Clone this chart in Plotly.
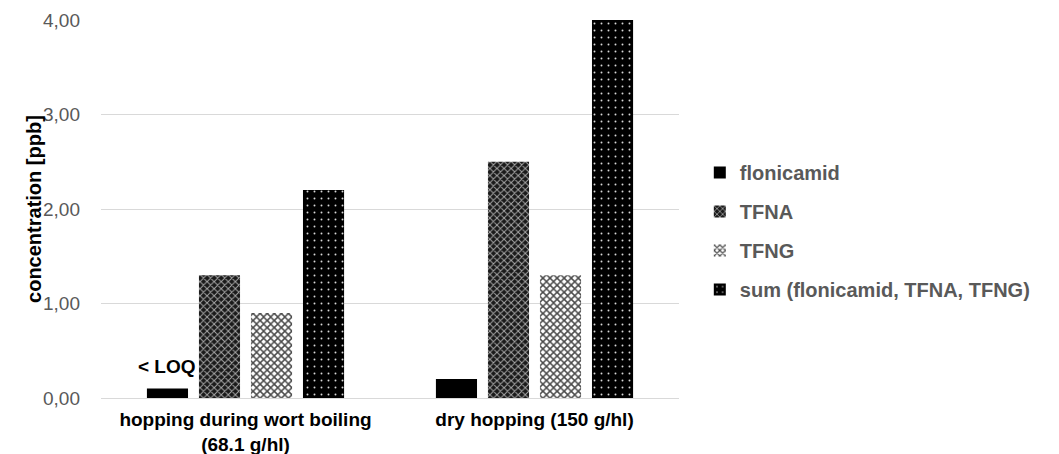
import plotly.graph_objects as go

categories = ["hopping during wort boiling<br>(68.1 g/hl)", "dry hopping (150 g/hl)"]
series_names = ["flonicamid", "TFNA", "TFNG", "sum (flonicamid, TFNA, TFNG)"]
flonicamid = [0.1, 0.2]
tfna = [1.3, 2.5]
tfng = [0.9, 1.3]
total = [2.2, 4.0]
loq_label = "< LOQ"
y_title = "concentration [ppb]"
ytick_vals = [0, 1, 2, 3, 4]
ytick_text = ["0,00", "1,00", "2,00", "3,00", "4,00"]

BARGAP = 0.28
patterns = [
    dict(shape="", bgcolor="black", fgcolor="black"),
    dict(shape="x", bgcolor="#1a1a1a", fgcolor="#a8a8a8", size=5, solidity=0.35, fillmode="replace"),
    dict(shape="x", bgcolor="white", fgcolor="#4a4a4a", size=5, solidity=0.5, fillmode="replace"),
    dict(shape=".", bgcolor="black", fgcolor="#d8d8d8", size=7, solidity=0.06, fillmode="replace"),
]

fig = go.Figure()
values = [flonicamid, tfna, tfng, total]
for i, (name, vals) in enumerate(zip(series_names, values)):
    fig.add_trace(go.Bar(
        x=categories, y=vals, name=name, legendgroup=name,
        marker=dict(color="black", line=dict(width=0), pattern=patterns[i]),
        hoverinfo="skip"))

# "< LOQ" label above the first flonicamid bar
slot = (1 - BARGAP) / len(series_names)
fig.add_annotation(
    x=0 - 1.5 * slot, y=flonicamid[0], xref="x", yref="y",
    text=loq_label, showarrow=False, yanchor="bottom", yshift=10,
    font=dict(family="Liberation Sans", size=19, color="black", weight="bold"),
)
# y axis title
fig.add_annotation(
    x=-0.116, y=0.5, xref="paper", yref="paper", textangle=-90,
    text=y_title, showarrow=False, xanchor="center", yanchor="middle",
    font=dict(family="Liberation Sans", size=20, color="black", weight="bold"),
)

fig.update_layout(
    width=1059, height=454,
    margin=dict(l=101, r=380, t=20, b=56),
    paper_bgcolor="white", plot_bgcolor="white",
    barmode="group", bargap=BARGAP, bargroupgap=0.21,
    font=dict(family="Liberation Sans", size=19, color="#595959"),
    legend=dict(
        x=1.036, xanchor="left", y=0.442, yanchor="middle",
        font=dict(family="Liberation Sans", size=20, color="#595959", weight="bold"),
        tracegroupgap=10, bgcolor="rgba(0,0,0,0)",
    ),
    showlegend=True,
)
fig.update_xaxes(
    showgrid=False, showline=True, linecolor="#d9d9d9", linewidth=1,
    tickfont=dict(family="Liberation Sans", size=19, color="black", weight="bold"),
    ticks="", automargin=False, ticklabelstandoff=4,
)
fig.update_yaxes(
    range=[0, 4], tickvals=ytick_vals, ticktext=ytick_text,
    showgrid=True, gridcolor="#d9d9d9", gridwidth=1,
    zeroline=False, showline=False, automargin=False,
    tickfont=dict(family="Liberation Sans", size=19, color="#595959"),
    ticklabelstandoff=20,
)
fig.write_html("out.html", config={"displayModeBar": False},
               post_script="document.body.style.margin='0';")
